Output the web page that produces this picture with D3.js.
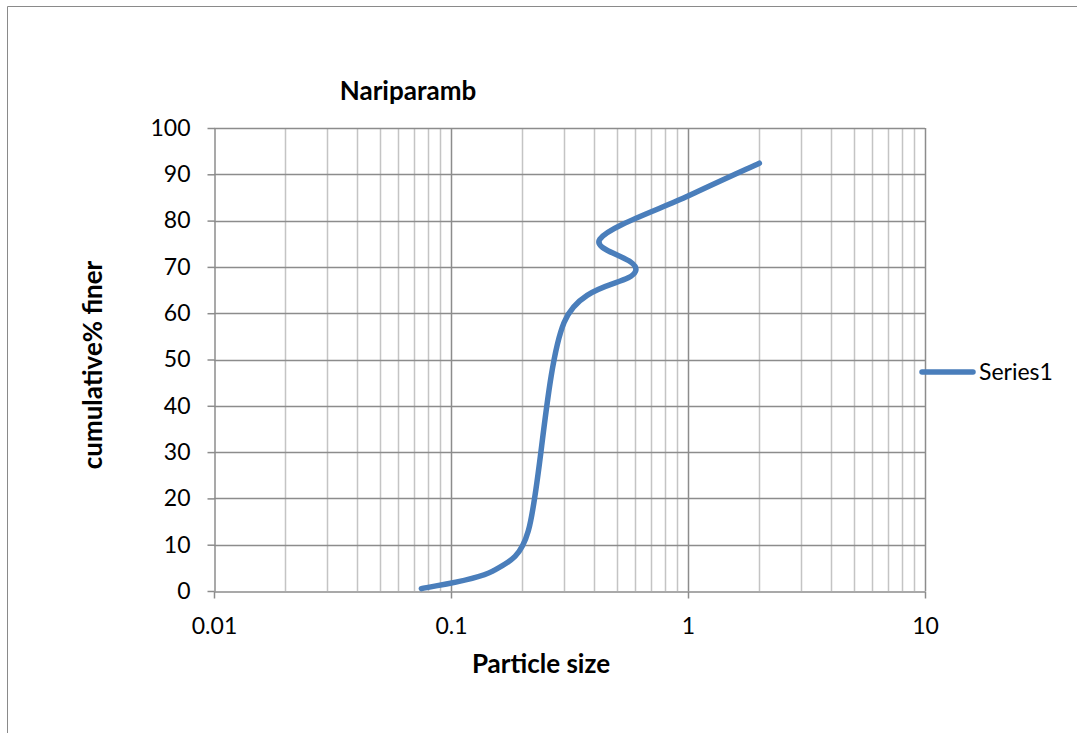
<!DOCTYPE html>
<html>
<head>
<meta charset="utf-8">
<script src="https://cdn.jsdelivr.net/npm/d3@7"></script>
<style>
  body { margin: 0; background: #fff; }
  svg text { font-family: Lato, 'Open Sans', sans-serif; fill: #000; }
</style>
</head>
<body>
<div id="visualization"></div>
<script>
// sieve sizes (mm) in the order they were entered, and % finer
const sizes = [0.075, 0.15, 0.212, 0.3, 0.6, 0.425, 1, 2];
const finer = [0.5, 4.3, 13, 58, 69, 76, 85.3, 92.4];

const xTicks = [0.01, 0.1, 1, 10];
const xTickLabels = ['0.01', '0.1', '1', '10'];
const yTicks = [0, 10, 20, 30, 40, 50, 60, 70, 80, 90, 100];

const chartTitle = 'Nariparamb';
const xTitle = 'Particle size';
const yTitle = 'cumulative% finer';
const seriesName = 'Series1';

const width = 1077;
const height = 733;
const plot = { left: 214, right: 925, top: 128, bottom: 591 };
const lineColor = '#4a7ebb';
const gridMajor = '#8c8c8c';
const gridMinor = '#c4c4c4';

// spreadsheet-style smoothing: catmull-rom bezier with handles capped
// at half the segment length
function curveSmooth(context) {
  let pts = [];
  const dist = (a, b) => Math.hypot(b[0] - a[0], b[1] - a[1]);
  return {
    areaStart() {},
    areaEnd() {},
    lineStart() { pts = []; },
    point(px, py) { pts.push([px, py]); },
    lineEnd() {
      const n = pts.length;
      if (!n) return;
      context.moveTo(pts[0][0], pts[0][1]);
      for (let i = 0; i < n - 1; i += 1) {
        const p0 = pts[Math.max(i - 1, 0)];
        const p1 = pts[i];
        const p2 = pts[i + 1];
        const p3 = pts[Math.min(i + 2, n - 1)];
        const d12 = dist(p1, p2);
        const d02 = dist(p0, p2);
        const d13 = dist(p1, p3);
        const f1 = d02 ? Math.min(1 / 6, (0.5 * d12) / d02) : 0;
        const f2 = d13 ? Math.min(1 / 6, (0.5 * d12) / d13) : 0;
        context.bezierCurveTo(
          p1[0] + f1 * (p2[0] - p0[0]), p1[1] + f1 * (p2[1] - p0[1]),
          p2[0] - f2 * (p3[0] - p1[0]), p2[1] - f2 * (p3[1] - p1[1]),
          p2[0], p2[1],
        );
      }
    },
  };
}

const svg = d3.select('#visualization')
  .append('svg')
  .attr('width', width)
  .attr('height', height);

// outer chart frame (only top and left edges show)
svg.append('path')
  .attr('d', `M7.5,${height}V6.5H${width}`)
  .attr('fill', 'none')
  .attr('stroke', '#8a8a8a')
  .attr('stroke-width', 1);

const x = d3.scaleLog()
  .domain([0.01, 10])
  .range([plot.left, plot.right]);

const y = d3.scaleLinear()
  .domain([0, 100])
  .range([plot.bottom, plot.top]);

// vertical grid: minor 2..9 of each decade, then majors
const minorX = [];
[0.01, 0.1, 1].forEach((d) => {
  for (let k = 2; k <= 9; k += 1) minorX.push(d * k);
});

const grid = svg.append('g');

grid.selectAll('line.minor')
  .data(minorX)
  .enter()
  .append('line')
  .attr('class', 'minor')
  .attr('x1', (d) => Math.round(x(d)) + 0.5)
  .attr('x2', (d) => Math.round(x(d)) + 0.5)
  .attr('y1', plot.top)
  .attr('y2', plot.bottom)
  .attr('stroke', gridMinor)
  .attr('stroke-width', 1.5);

grid.selectAll('line.hgrid')
  .data(yTicks.slice(1))
  .enter()
  .append('line')
  .attr('class', 'hgrid')
  .attr('x1', plot.left)
  .attr('x2', plot.right)
  .attr('y1', (d) => Math.round(y(d)) + 0.5)
  .attr('y2', (d) => Math.round(y(d)) + 0.5)
  .attr('stroke', gridMajor)
  .attr('stroke-width', 1.5);

grid.selectAll('line.major')
  .data(xTicks.slice(1))
  .enter()
  .append('line')
  .attr('class', 'major')
  .attr('x1', (d) => Math.round(x(d)) + 0.5)
  .attr('x2', (d) => Math.round(x(d)) + 0.5)
  .attr('y1', plot.top)
  .attr('y2', plot.bottom)
  .attr('stroke', gridMajor)
  .attr('stroke-width', 1.5);

// axes
const yAxis = svg.append('g')
  .attr('transform', `translate(${plot.left + 0.5},0)`)
  .call(d3.axisLeft(y).tickValues(yTicks).tickSize(7).tickSizeOuter(0).tickPadding(17));

const xAxis = svg.append('g')
  .attr('transform', `translate(0,${plot.bottom + 0.5})`)
  .call(d3.axisBottom(x)
    .tickValues(xTicks)
    .tickFormat((d, i) => xTickLabels[i])
    .tickSize(7)
    .tickSizeOuter(0)
    .tickPadding(19));

[xAxis, yAxis].forEach((g) => {
  g.selectAll('path, line')
    .attr('stroke', gridMajor)
    .attr('stroke-width', 1.5);
  g.selectAll('text')
    .attr('font-size', 23)
    .attr('font-family', 'Lato, sans-serif')
    .attr('fill', '#000');
});

// smoothed series line
const points = sizes.map((s, i) => [s, finer[i]]);

const line = d3.line()
  .x((d) => x(d[0]))
  .y((d) => y(d[1]))
  .curve(curveSmooth);

svg.append('path')
  .datum(points)
  .attr('d', line)
  .attr('fill', 'none')
  .attr('stroke', lineColor)
  .attr('stroke-width', 5.5)
  .attr('stroke-linecap', 'round')
  .attr('stroke-linejoin', 'round');

// titles
svg.append('text')
  .attr('x', 408)
  .attr('y', 100)
  .attr('text-anchor', 'middle')
  .attr('font-size', 26)
  .attr('font-weight', 'bold')
  .text(chartTitle);

svg.append('text')
  .attr('x', 541)
  .attr('y', 673)
  .attr('text-anchor', 'middle')
  .attr('font-size', 26)
  .attr('font-weight', 'bold')
  .text(xTitle);

svg.append('text')
  .attr('transform', 'translate(102,365) rotate(-90)')
  .attr('text-anchor', 'middle')
  .attr('font-size', 26)
  .attr('font-weight', 'bold')
  .text(yTitle);

// legend
const legend = svg.append('g')
  .attr('transform', 'translate(920,372)');

legend.append('line')
  .attr('x1', 2)
  .attr('x2', 53)
  .attr('y1', 0)
  .attr('y2', 0)
  .attr('stroke', lineColor)
  .attr('stroke-width', 5.5)
  .attr('stroke-linecap', 'round');

legend.append('text')
  .attr('x', 59)
  .attr('y', 8)
  .attr('font-size', 23)
  .text(seriesName);
</script>
</body>
</html>
